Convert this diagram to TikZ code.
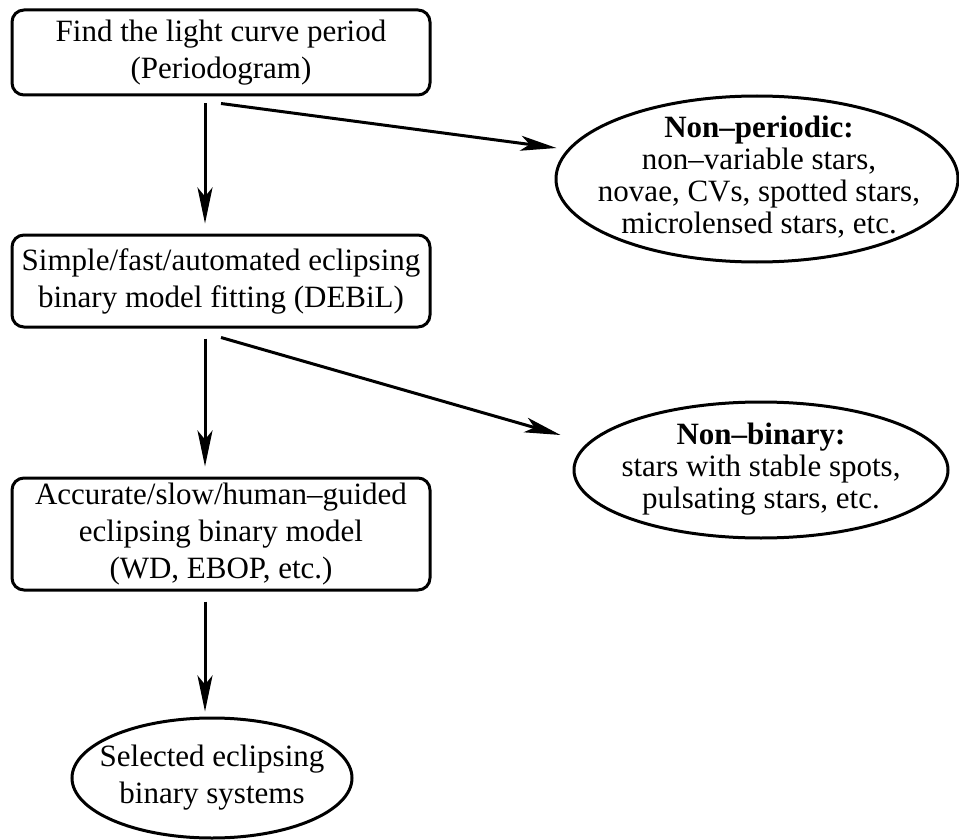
\documentclass[tikz,border=0pt]{standalone}
\usepackage{fontspec}
\setmainfont{Liberation Serif}
\usetikzlibrary{shapes.geometric,arrows.meta}
\tikzset{
  x=1pt,y=-1pt,
  every node/.style={font=\fontsize{31}{37}\selectfont},
  stepbox/.style={draw,line width=3pt,rounded corners=12pt,minimum width=418pt,inner sep=0pt,align=center},
  endshape/.style={draw,line width=3pt,ellipse,inner sep=0pt},
  txt/.style={align=center,inner sep=0pt},
  arr/.style={line width=3pt,-{Stealth[length=36pt,width=15pt,inset=9pt]}}
}
\begin{document}
\begin{tikzpicture}
\useasboundingbox (0,0) rectangle (959,840);
\node[stepbox,minimum height=85pt] (b1) at (221,52.5) {Find the light curve period\\(Periodogram)};
\node[stepbox,minimum height=92pt] (b2) at (221,281) {Simple/fast/automated eclipsing\\binary model fitting (DEBiL)};
\node[stepbox,minimum height=112pt] (b3) at (221,534) {Accurate/slow/human--guided\\eclipsing binary model\\(WD, EBOP, etc.)};
\node[endshape,minimum width=402pt,minimum height=166pt] (e1) at (757,179) {};
\node[txt,font=\fontsize{31}{32}\selectfont] (t1) at ([xshift=2pt,yshift=2pt]e1) {\textbf{Non--periodic:}\\non--variable stars,\\novae, CVs, spotted stars,\\microlensed stars, etc.};
\node[endshape,minimum width=374pt,minimum height=136pt] (e2) at (761,470) {};
\node[txt,font=\fontsize{31}{32}\selectfont] (t2) at ([yshift=1pt]e2) {\textbf{Non--binary:}\\stars with stable spots,\\pulsating stars, etc.};
\node[endshape,minimum width=280pt,minimum height=120pt] (e3) at (212,778) {};
\node[txt] (t3) at (e3) {Selected eclipsing\\binary systems};
\draw[arr] ([xshift=-16pt,yshift=-7pt]b1.south) -- ([xshift=-16pt,yshift=10pt]b2.north);
\draw[arr] ([yshift=-7pt]b1.south) -- ([xshift=2pt,yshift=31pt]e1.west);
\draw[arr] ([xshift=-16pt,yshift=-10pt]b2.south) -- ([xshift=-16pt,yshift=10pt]b3.north);
\draw[arr] ([yshift=-9pt]b2.south) -- ([xshift=-12pt,yshift=35pt]e2.west);
\draw[arr] ([xshift=-16pt,yshift=-10pt]b3.south) -- ([xshift=-7pt,yshift=5pt]e3.north);
\end{tikzpicture}
\end{document}
